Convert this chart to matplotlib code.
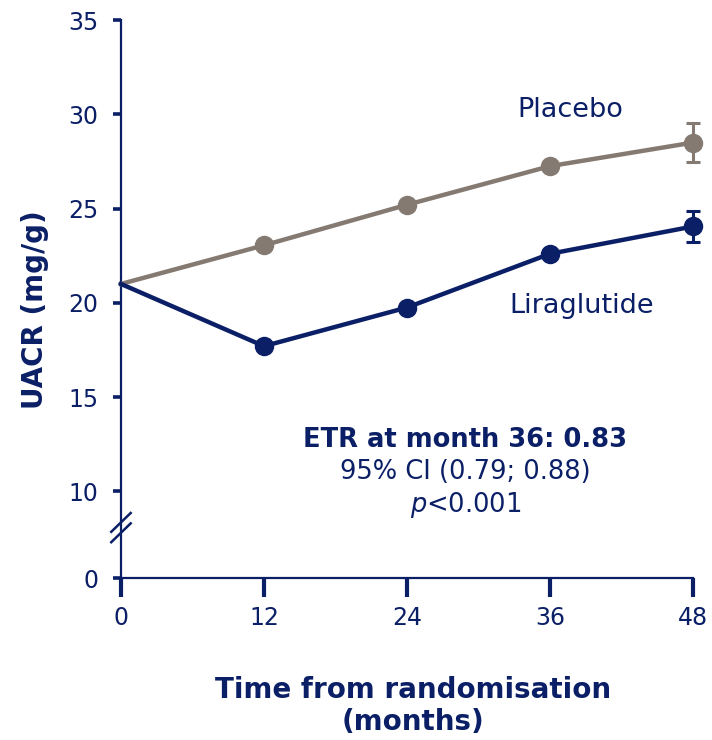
import numpy as np
import matplotlib.pyplot as plt
from matplotlib import transforms

# UACR over time, liraglutide vs placebo
months = [0, 12, 24, 36, 48]
placebo = [21.0, 23.05, 25.2, 27.25, 28.5]
liraglutide = [21.0, 17.7, 19.75, 22.6, 24.05]
placebo_err = [0, 0, 0, 0, 1.05]
lira_err = [0, 0, 0, 0, 0.8]

ytick_vals = [10, 15, 20, 25, 30, 35]
zero_pos = 5.4   # where "0" sits below the axis break

navy = '#0b1f66'
grey = '#857a71'

plt.rcParams['font.family'] = 'DejaVu Sans'

fig = plt.figure(figsize=(7.12, 7.4), dpi=100)
ax = fig.add_axes([0.1699, 0.2189, 0.8034, 0.754])

# baseline point has no marker, only the line start
for vals, err, col, z in [(placebo, placebo_err, grey, 3), (liraglutide, lira_err, navy, 4)]:
    ax.plot(months, vals, color=col, lw=3.2, marker='o', ms=13,
            markevery=[1, 2, 3, 4], clip_on=False, zorder=z)
    ax.errorbar(months[1:], vals[1:], yerr=err[1:], fmt='none', ecolor=col,
                capsize=5, elinewidth=2.2, capthick=2.2, clip_on=False, zorder=z)

ax.set_xlim(0, 48)
ax.set_ylim(zero_pos, 35)
ax.set_xticks(months)
ax.set_xticklabels([str(m) for m in months])
ax.set_yticks([zero_pos] + ytick_vals)
ax.set_yticklabels(['0'] + [str(v) for v in ytick_vals])

for s in ['top', 'right']:
    ax.spines[s].set_visible(False)
for s in ['left', 'bottom']:
    ax.spines[s].set_color(navy)
    ax.spines[s].set_linewidth(1.6)

ax.tick_params(axis='y', colors=navy, labelsize=17, width=2.6, length=6, pad=10)
ax.tick_params(axis='x', colors=navy, labelsize=17, width=3, length=14, pad=6)

# axis break marks
trans = transforms.blended_transform_factory(ax.transAxes, ax.transData)
for yc in [8.35, 7.8]:
    ax.plot([-0.017, 0.017], [yc - 0.5, yc + 0.5], color=navy, lw=1.8,
            transform=trans, clip_on=False, zorder=5)

ax.text(37.7, 30.25, 'Placebo', color=navy, fontsize=19.5, ha='center', va='center')
ax.text(38.7, 19.85, 'Liraglutide', color=navy, fontsize=19.5, ha='center', va='center')

ax.text(28.9, 12.7, 'ETR at month 36: 0.83', color=navy, fontsize=18.5,
        fontweight='bold', ha='center', va='center')
ax.text(28.9, 11.0, '95% CI (0.79; 0.88)', color=navy, fontsize=18.5,
        ha='center', va='center')
ax.text(28.9, 9.25, r'$\it{p}$<0.001', color=navy, fontsize=18.5,
        ha='center', va='center')

fig.text(35 / 712, 1 - 310 / 740, 'UACR (mg/g)', color=navy, fontsize=20,
         fontweight='bold', rotation=90, ha='center', va='center')
fig.text(413 / 712, 1 - 706 / 740, 'Time from randomisation\n(months)', color=navy,
         fontsize=20, fontweight='bold', ha='center', va='center', linespacing=1.15)

fig.savefig('out.png', dpi=100)
